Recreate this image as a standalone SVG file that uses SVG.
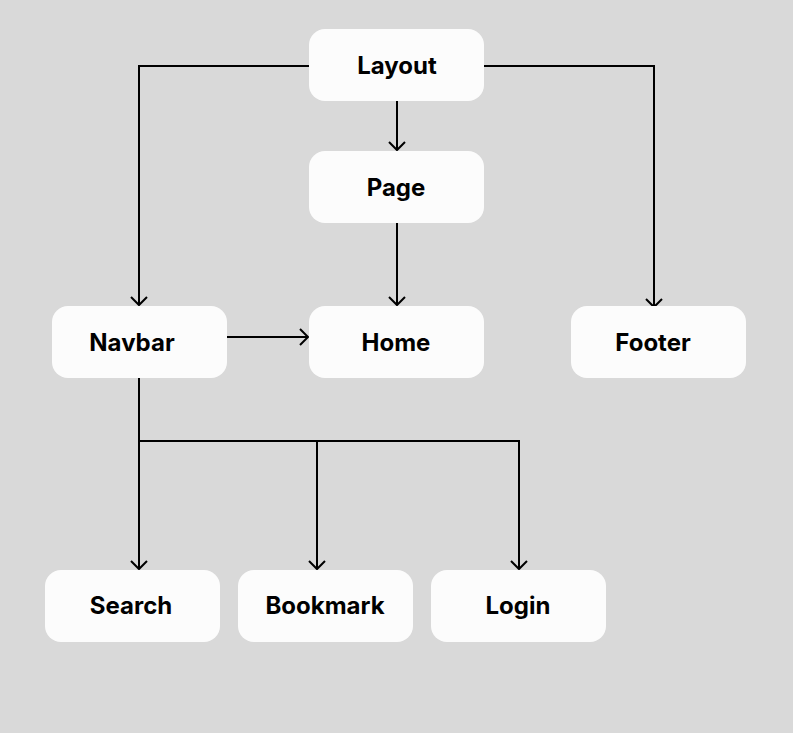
<svg xmlns="http://www.w3.org/2000/svg" width="793" height="733" viewBox="0 0 793 733">
<style>
.n{fill:#fcfcfc}
.t{font-family:Inter,"Liberation Sans",sans-serif;font-weight:700;font-size:24px;fill:#000;text-anchor:middle}
.c{fill:none;stroke:#000;stroke-width:2}
</style>
<defs>
<marker id="a" markerWidth="20" markerHeight="20" refX="10" refY="10" orient="auto" markerUnits="userSpaceOnUse">
<path d="M2,2 L10,10 L2,18" fill="none" stroke="#000" stroke-width="2"/>
</marker>
</defs>
<rect width="793" height="733" fill="#d9d9d9"/>
<g id="connectors">
<path class="c" d="M309,66 H139 V305" marker-end="url(#a)"/>
<path class="c" d="M484,66 H654 V307" marker-end="url(#a)"/>
<path class="c" d="M397,101 V150" marker-end="url(#a)"/>
<path class="c" d="M397,223 V305" marker-end="url(#a)"/>
<path class="c" d="M227,337 H308" marker-end="url(#a)"/>
<path class="c" d="M139,378 V569" marker-end="url(#a)"/>
<path class="c" d="M139,441 H519 V569" marker-end="url(#a)"/>
<path class="c" d="M317,441 V569" marker-end="url(#a)"/>
</g>
<g id="layout"><rect class="n" x="309" y="29" width="175" height="72" rx="16"/><text class="t" x="397" y="74">Layout</text></g>
<g id="page"><rect class="n" x="309" y="151" width="175" height="72" rx="16"/><text class="t" x="396" y="196">Page</text></g>
<g id="navbar"><rect class="n" x="52" y="306" width="175" height="72" rx="16"/><text class="t" x="132" y="351">Navbar</text></g>
<g id="home"><rect class="n" x="309" y="306" width="175" height="72" rx="16"/><text class="t" x="396" y="351">Home</text></g>
<g id="footer"><rect class="n" x="571" y="306" width="175" height="72" rx="16"/><text class="t" x="653" y="351">Footer</text></g>
<g id="search"><rect class="n" x="45" y="570" width="175" height="72" rx="16"/><text class="t" x="131" y="614">Search</text></g>
<g id="bookmark"><rect class="n" x="238" y="570" width="175" height="72" rx="16"/><text class="t" x="325" y="614">Bookmark</text></g>
<g id="login"><rect class="n" x="431" y="570" width="175" height="72" rx="16"/><text class="t" x="518" y="614">Login</text></g>
</svg>
